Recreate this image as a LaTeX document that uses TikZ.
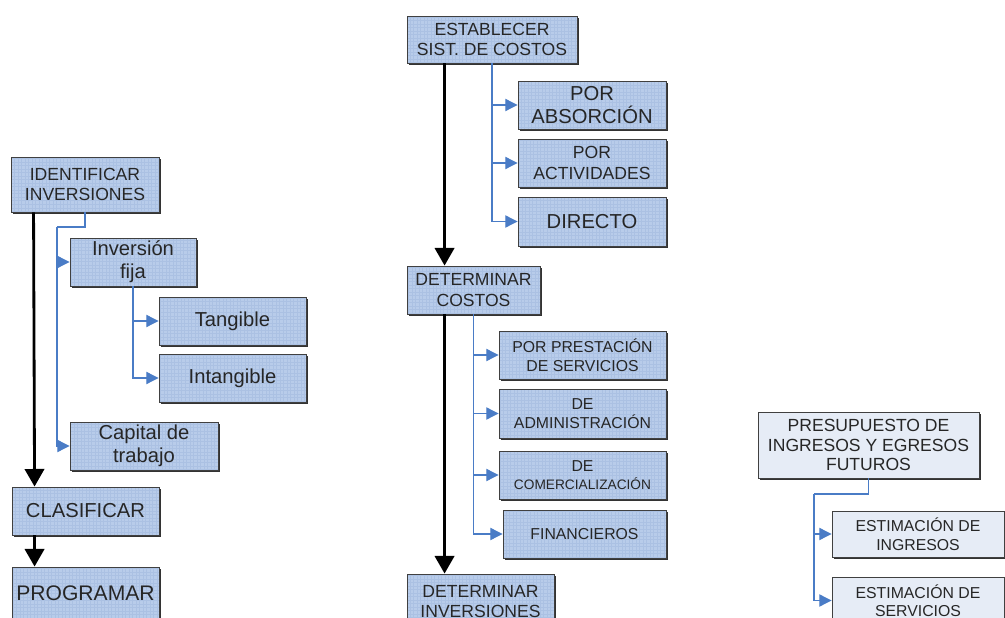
\documentclass[tikz,border=0pt]{standalone}
\usepackage{fontspec}
\setmainfont{Liberation Sans}
\usetikzlibrary{arrows.meta,shadows}
\definecolor{cajafill}{HTML}{B8CCEA}
\definecolor{cajagrid}{HTML}{ABC1E3}
\definecolor{clarofill}{HTML}{E6ECF6}
\definecolor{rama}{HTML}{4A7CC6}
\tikzset{
 caja/.style 2 args={draw=black!75,line width=.5pt,fill=cajafill,
   minimum width=#1*0.02cm,minimum height=#2*0.02cm,inner sep=1pt,
   align=center,text=black!85,
   drop shadow={shadow xshift=1pt,shadow yshift=-1pt,fill=black!80,opacity=1},
   path picture={\draw[cajagrid,line width=.2pt]
     (path picture bounding box.south west) grid[step=2pt]
     (path picture bounding box.north east);}},
 clara/.style 2 args={caja={#1}{#2},fill=clarofill,path picture={}},
 flujo/.style={line width=1.6pt,-{Triangle[length=10pt,width=11pt]}},
 ramal/.style={rama,line width=.6pt},
 ramaf/.style={ramal,-{Triangle[length=7pt,width=7pt]}},
 f/.style 2 args={font=\fontsize{#1}{#2}\selectfont}}
\begin{document}
\begin{tikzpicture}[x=0.02cm,y=-0.02cm]
 \clip (0,0) rectangle (1005,618);
 % inversiones
 \node[caja={148}{55},f={10}{11.5}] (ident) at (85,184.5) {IDENTIFICAR\\INVERSIONES};
 \node[caja={126}{48},f={11.5}{13}] (fija) at (133,262) {Inversión\\fija};
 \node[caja={147}{48},f={11.5}{13}] (tang) at (232.5,321) {Tangible};
 \node[caja={147}{48},f={11.5}{13}] (intang) at (232.5,378) {Intangible};
 \node[caja={148}{48},f={11.5}{13}] (capital) at (144,446) {Capital de\\trabajo};
 \node[caja={147}{48},f={11.5}{13}] (clas) at (85.5,511) {CLASIFICAR};
 \node[caja={147}{52},f={12}{14}] (prog) at (85.5,593) {PROGRAMAR};
 % costos
 \node[caja={170}{47},f={10}{11.5}] (est) at (492,39.5) {ESTABLECER\\SIST. DE COSTOS};
 \node[caja={148}{48},f={11.5}{13}] (abs) at (592,105) {POR\\ABSORCIÓN};
 \node[caja={148}{48},f={10}{11.5}] (act) at (592,163) {POR\\ACTIVIDADES};
 \node[caja={148}{49},f={11.5}{13}] (dir) at (592,221.5) {DIRECTO};
 \node[caja={133}{48},f={10}{11.5}] (costos) at (473.5,290) {DETERMINAR\\COSTOS};
 \node[caja={167}{48},f={9}{10.5}] (prest) at (582.5,355) {POR PRESTACIÓN\\DE SERVICIOS};
 \node[caja={167}{49},f={9}{10.5}] (admin) at (582.5,413.5) {DE\\ADMINISTRACIÓN};
 \node[caja={167}{48},f={9}{10.5}] (comer) at (582.5,475)
   {DE\\{\fontsize{7.8}{9}\selectfont COMERCIALIZACIÓN}};
 \node[caja={163}{48},f={9}{10.5}] (fin) at (584.5,534) {FINANCIEROS};
 \node[caja={147}{55},f={10}{11.5}] (inv) at (480.5,601.5) {DETERMINAR\\INVERSIONES};
 % presupuesto
 \node[clara={221}{66},f={10}{11}] (pres) at (868.5,445)
   {PRESUPUESTO DE\\INGRESOS Y EGRESOS\\FUTUROS};
 \node[clara={172}{46},f={9}{10.5}] (ingr) at (918,534) {ESTIMACIÓN DE\\INGRESOS};
 \node[clara={172}{47},f={9}{10.5}] (serv) at (918,600.5) {ESTIMACIÓN DE\\SERVICIOS};
 % secuencia
 \draw[flujo] ([xshift=.46cm]ident.south west) -- ([xshift=.46cm]clas.north west);
 \draw[flujo] ([xshift=.46cm]clas.south west) -- ([xshift=.46cm]prog.north west);
 \draw[flujo] ([xshift=.76cm]est.south west) -- ([xshift=.76cm]costos.north west);
 \draw[flujo] ([xshift=.76cm]costos.south west) -- ([xshift=.76cm]inv.north west);
 % ramas
 \coordinate (r1) at (57,227);
 \coordinate (r2) at (814,494);
 \draw[ramal] (ident.south) |- (r1);
 \draw[ramaf] (r1) |- (fija.west);
 \draw[ramaf] (r1) |- (capital.west);
 \foreach \h in {tang,intang}
   \draw[ramaf] (fija.south) |- (\h.west);
 \foreach \h in {abs,act,dir}
   \draw[ramaf] (est.south) |- (\h.west);
 \foreach \h in {prest,admin,comer,fin}
   \draw[ramaf] (costos.south) |- (\h.west);
 \draw[ramal] (pres.south) |- (r2);
 \draw[ramaf] (r2) |- (ingr.west);
 \draw[ramaf] (r2) |- (serv.west);
\end{tikzpicture}
\end{document}
